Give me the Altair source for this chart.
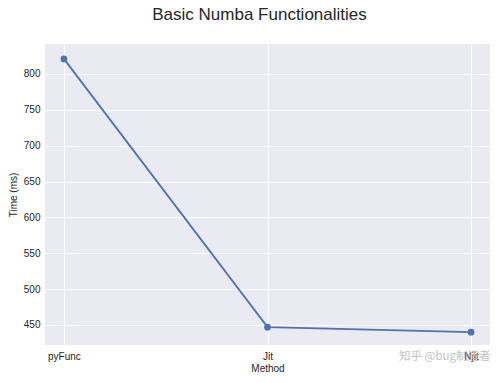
import altair as alt
import pandas as pd

methods = ["pyFunc", "Jit", "Njit"]
times = [821, 447, 440]

df = pd.DataFrame({"Method": methods, "Time": times})

base = alt.Chart(df)

x = alt.X("Method:N", sort=methods, title="Method",
          scale=alt.Scale(type="point", padding=0.093),
          axis=alt.Axis(labelAngle=0, grid=True, gridColor="white", gridWidth=1,
                        domain=False, ticks=False, labelPadding=6, titlePadding=2,
                        labelFontSize=10, titleFontSize=10, labelColor="#262626",
                        titleColor="#262626", titleFontWeight="normal",
                        labelFont="Liberation Sans", titleFont="Liberation Sans"))
y = alt.Y("Time:Q", title="Time (ms)",
          scale=alt.Scale(domain=[422.1, 841.8], nice=False, zero=False),
          axis=alt.Axis(values=[450, 500, 550, 600, 650, 700, 750, 800],
                        grid=True, gridColor="white", gridWidth=1,
                        domain=False, ticks=False, labelPadding=5, titlePadding=5,
                        labelFontSize=10, titleFontSize=10, labelColor="#262626",
                        titleColor="#262626", titleFontWeight="normal",
                        labelFont="Liberation Sans", titleFont="Liberation Sans"))

line = base.mark_line(color="#4C72B0", strokeWidth=1.8).encode(x=x, y=y)
pts = base.mark_circle(color="#4C72B0", size=45, opacity=1).encode(x=x, y=y)

wm = alt.Chart(pd.DataFrame({"t": ["知乎 @bug制造者"]})).mark_text(
    align="left", baseline="middle", fontSize=11.5, color="#b8b8b8",
    font="Noto Sans CJK SC", opacity=0.85
).encode(text="t:N", x=alt.value(354), y=alt.value(313))

chart = alt.layer(line, pts, wm).properties(
    width=445, height=301,
    padding={"left": 37, "top": 36, "right": 0, "bottom": 29},
    autosize=alt.AutoSizeParams(type="none"),
    background="white",
    title=alt.TitleParams("Basic Numba Functionalities", fontSize=17,
                          font="Liberation Sans", fontWeight="normal",
                          color="#262626", anchor="middle", offset=20, dx=-8),
).configure_view(fill="#EAEAF2", strokeWidth=0)

chart.save("out.html", embed_options={"renderer": "svg", "actions": False})
